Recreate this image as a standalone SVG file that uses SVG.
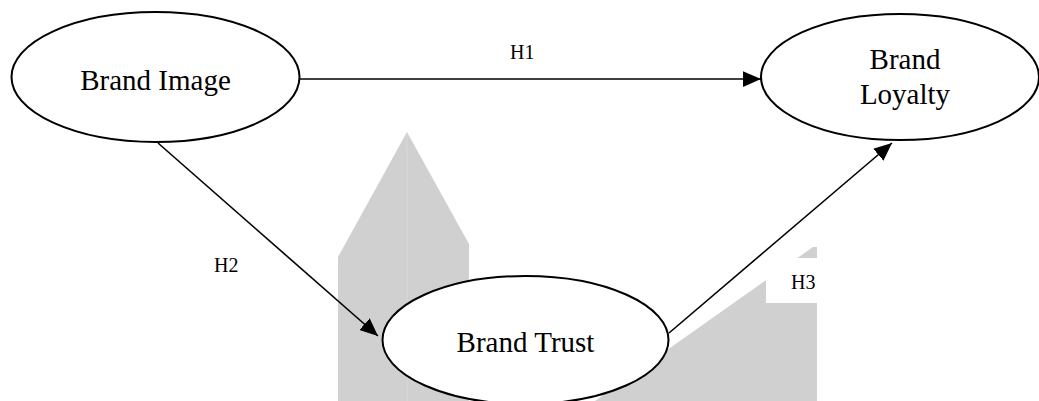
<svg xmlns="http://www.w3.org/2000/svg" width="1039" height="401" viewBox="0 0 1039 401">
  <style>
    .shade { fill: #d0d0d0; stroke: none; }
    .node ellipse { fill: #ffffff; stroke: #000000; stroke-width: 2; }
    .label { font-family: "Liberation Serif", "Times New Roman", serif; font-size: 29px; fill: #000000; }
    .hyp { font-family: "Liberation Serif", "Times New Roman", serif; font-size: 20px; fill: #000000; }
    .edge { stroke: #000000; stroke-width: 1.6; fill: none; marker-end: url(#arrow); }
  </style>
  <defs>
    <marker id="arrow" markerUnits="userSpaceOnUse" markerWidth="18" markerHeight="16" viewBox="0 0 16 14" refX="16" refY="7" orient="auto">
      <path d="M0,0 L16,7 L0,14 Z" fill="#000000"/>
    </marker>
  </defs>

  <!-- background shading -->
  <g id="background">
    <polygon class="shade" points="338,401 338,257 407,132 469,244 469,401"/>
    <line x1="407" y1="134" x2="407" y2="401" stroke="#d8d8d8" stroke-width="1"/>
    <polygon class="shade" points="595,401 813,247 817,247 817,401"/>
    <rect x="766" y="258" width="51" height="45" fill="#ffffff"/>
  </g>

  <!-- connectors -->
  <g id="connectors">
    <line class="edge" x1="300" y1="79" x2="761" y2="79"/>
    <line class="edge" x1="158" y1="143" x2="378" y2="336"/>
    <line class="edge" x1="669" y1="333" x2="892" y2="143"/>
    <text class="hyp" x="510" y="59">H1</text>
    <text class="hyp" x="214" y="272">H2</text>
    <text class="hyp" x="791" y="289">H3</text>
  </g>

  <g id="brand-image" class="node">
    <ellipse cx="155.5" cy="77" rx="144" ry="65"/>
    <text class="label" x="155.5" y="90" text-anchor="middle">Brand Image</text>
  </g>

  <g id="brand-loyalty" class="node">
    <ellipse cx="900" cy="77" rx="139" ry="63"/>
    <text class="label" x="905" y="69" text-anchor="middle">Brand</text>
    <text class="label" x="905" y="104" text-anchor="middle">Loyalty</text>
  </g>

  <g id="brand-trust" class="node">
    <ellipse cx="525.5" cy="340" rx="143" ry="64"/>
    <text class="label" x="525.5" y="352" text-anchor="middle">Brand Trust</text>
  </g>
</svg>
